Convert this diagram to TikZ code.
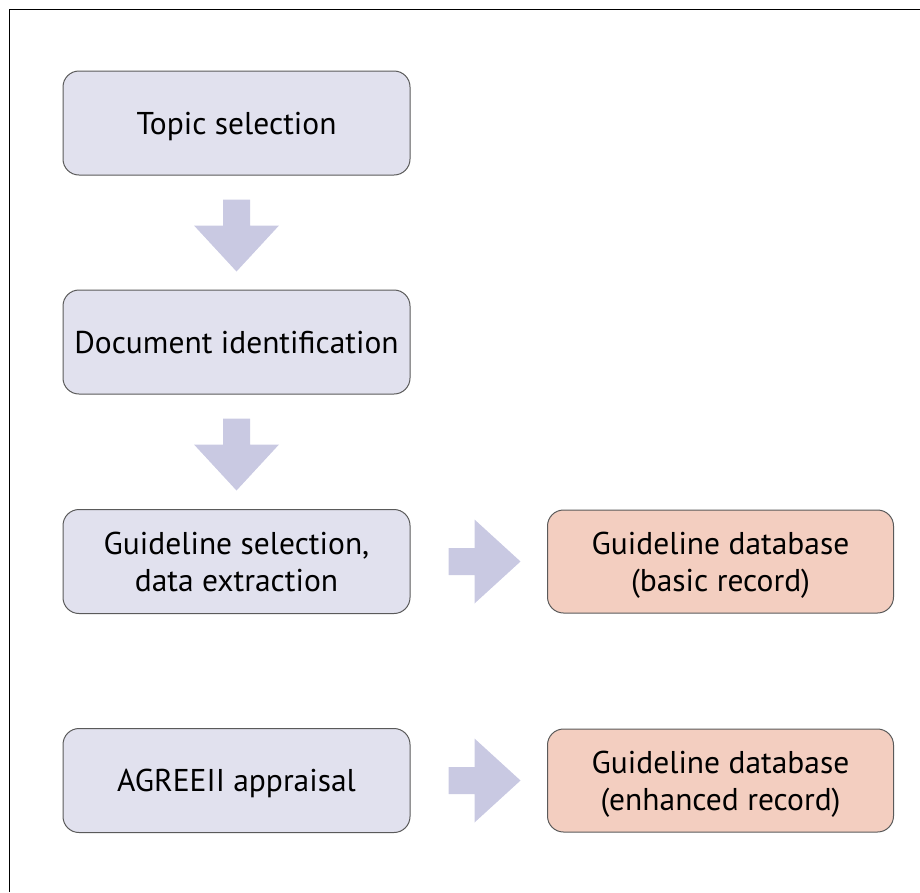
\documentclass[tikz,border=0pt]{standalone}
\usepackage{fontspec}
\setmainfont{PT Sans}
\usetikzlibrary{calc}
\definecolor{lavbox}{HTML}{E1E1EE}
\definecolor{peachbox}{HTML}{F3CEC0}
\definecolor{arrowc}{HTML}{C9C9E2}
\definecolor{edgec}{HTML}{5A5A5A}
\tikzset{
  basebox/.style={draw=edgec, line width=1pt, rounded corners=16pt, minimum width=347pt, minimum height=104pt, align=center, font=\fontsize{31.5}{37}\selectfont, inner sep=0pt, text depth=-4pt},
  leftbox/.style={basebox, fill=lavbox},
  rightbox/.style={basebox, fill=peachbox, minimum width=346pt, minimum height=103pt},
  downarrow/.pic={\fill[arrowc] (-13.5,24) -- (13.5,24) -- (13.5,50) -- (42.5,50) -- (0,96) -- (-42.5,50) -- (-13.5,50) -- cycle;},
  rightarrow/.pic={\fill[arrowc] (38,-13.5) -- (64,-13.5) -- (64,-42) -- (110,0) -- (64,42) -- (64,13.5) -- (38,13.5) -- cycle;}
}
\begin{document}
\begin{tikzpicture}[x=1pt,y=-1pt]
\useasboundingbox (0,0) rectangle (920,892);
\draw[line width=1.6pt, black] (9.5,892) -- (9.5,9.5) -- (920,9.5);
\node[leftbox] (t1) at (236.5,123) {Topic selection};
\node[leftbox] (t2) at (236.5,342) {Document identification};
\node[leftbox] (t3) at (236.5,561.5) {Guideline selection,\\ data extraction};
\node[leftbox] (t4) at (236.5,780.5) {AGREEII appraisal};
\node[rightbox] (r3) at (720.5,561.5) {Guideline database\\ (basic record)};
\node[rightbox] (r4) at (720.5,780.5) {Guideline database\\ (enhanced record)};
\pic at (t1.south) {downarrow};
\pic at (t2.south) {downarrow};
\pic at (t3.east) {rightarrow};
\pic at (t4.east) {rightarrow};
\end{tikzpicture}
\end{document}
